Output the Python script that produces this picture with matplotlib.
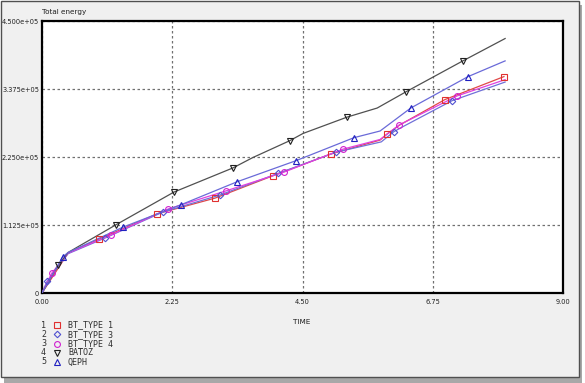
"""Total energy vs time for five shell formulations"""
import numpy as np
import matplotlib
matplotlib.use('Agg')
import matplotlib.pyplot as plt
from matplotlib.patches import Rectangle
from matplotlib.lines import Line2D

W, H = 585, 383

# Curve vertices (time, energy)
bt1_t = [0, 0.45, 0.98, 1.99, 2.99, 3.99, 4.99, 5.84, 5.96, 6.18, 6.96, 7.98]
bt1_e = [0, 0.66e5, 0.89e5, 1.31e5, 1.57e5, 1.94e5, 2.30e5, 2.53e5, 2.63e5, 2.78e5, 3.20e5, 3.58e5]
bt1_marks = [2, 3, 4, 5, 6, 8, 10, 11]

bt3_t = [0, 0.09, 0.45, 1.09, 2.09, 3.07, 4.08, 5.08, 5.86, 6.08, 6.25, 7.08, 8.0]
bt3_e = [0, 0.20e5, 0.65e5, 0.91e5, 1.34e5, 1.62e5, 1.98e5, 2.33e5, 2.50e5, 2.67e5, 2.76e5, 3.18e5, 3.49e5]
bt3_marks = [1, 3, 4, 5, 6, 7, 9, 11]

bt4_t = [0, 0.17, 0.45, 1.19, 2.18, 3.18, 4.18, 5.20, 5.84, 6.17, 7.17, 8.0]
bt4_e = [0, 0.33e5, 0.66e5, 0.96e5, 1.39e5, 1.69e5, 2.00e5, 2.38e5, 2.54e5, 2.78e5, 3.26e5, 3.53e5]
bt4_marks = [1, 3, 4, 5, 6, 7, 9, 10]

batoz_t = [0, 0.28, 0.45, 1.28, 2.28, 3.30, 3.64, 4.28, 4.51, 5.27, 5.79, 6.29, 7.27, 8.0]
batoz_e = [0, 0.46e5, 0.67e5, 1.13e5, 1.67e5, 2.07e5, 2.24e5, 2.52e5, 2.64e5, 2.91e5, 3.06e5, 3.33e5, 3.84e5, 4.21e5]
batoz_marks = [1, 3, 4, 5, 7, 9, 11, 12]

qeph_t = [0, 0.36, 0.45, 1.40, 2.40, 3.37, 4.39, 5.39, 5.84, 6.37, 7.36, 8.0]
qeph_e = [0, 0.60e5, 0.67e5, 1.09e5, 1.46e5, 1.84e5, 2.19e5, 2.57e5, 2.68e5, 3.06e5, 3.58e5, 3.84e5]
qeph_marks = [1, 3, 4, 5, 6, 7, 9, 10]

names = ['BT_TYPE 1', 'BT_TYPE 3', 'BT_TYPE 4', 'BATOZ', 'QEPH']
xticks = [0, 2.25, 4.5, 6.75, 9.0]
xlabels = ['0.00', '2.25', '4.50', '6.75', '9.00']
yticks = [0, 1.125e5, 2.25e5, 3.375e5, 4.5e5]
ylabels = ['0', '1.125e+05', '2.250e+05', '3.375e+05', '4.500e+05']

series = [(bt1_t, bt1_e, bt1_marks), (bt3_t, bt3_e, bt3_marks), (bt4_t, bt4_e, bt4_marks),
          (batoz_t, batoz_e, batoz_marks), (qeph_t, qeph_e, qeph_marks)]
line_cols = ['#e04848', '#7070d8', '#e040e0', '#505050', '#6a6ad8']
mark_cols = ['#e03030', '#5050d0', '#d020d0', '#202020', '#2020c0']
markers = ['s', 'D', 'o', 'v', '^']
msizes = [4.2, 3.3, 4.2, 4.2, 4.2]

plt.rcParams['font.family'] = 'DejaVu Sans'
fig = plt.figure(figsize=(W / 100, H / 100), dpi=100, facecolor='white')

# window frame with shadow
fig.add_artist(Rectangle((4 / W, 0), 578 / W, 1 - 5 / H, transform=fig.transFigure,
                         facecolor='#a8a8a8', edgecolor='none', zorder=-3))
fig.add_artist(Rectangle((1 / W, 1 - 377 / H), 578 / W, 376 / H, transform=fig.transFigure,
                         facecolor='#f0f0f0', edgecolor='#505050', lw=1, zorder=-2))

ax = fig.add_axes([42 / W, 1 - 293 / H, 521 / W, 272 / H])
ax.set_facecolor('white')

for (t, e, mk), lc, mc, m, ms in zip(series, line_cols, mark_cols, markers, msizes):
    t = np.array(t)
    e = np.array(e)
    ax.plot(t, e, color=lc, lw=0.9, zorder=3)
    ax.plot(t[mk], e[mk], ls='none', marker=m, ms=ms, mfc='none', mec=mc, mew=0.8, zorder=4)

ax.set_xlim(0, 9)
ax.set_ylim(0, 4.5e5)
ax.set_xticks(xticks)
ax.set_xticklabels(xlabels)
ax.set_yticks(yticks)
ax.set_yticklabels(ylabels)
ax.tick_params(length=0, labelsize=4.8, colors='#202020')
ax.tick_params(axis='x', pad=4)
ax.tick_params(axis='y', pad=2)
ax.grid(True, color='#707070', ls=(0, (2, 2)), lw=0.9)
for s in ax.spines.values():
    s.set_linewidth(1.6)
    s.set_color('black')

fig.text(42 / W, 1 - 12 / H, 'Total energy', fontsize=5.2, va='center', ha='left', color='#202020')
fig.text(302 / W, 1 - 322 / H, 'TIME', fontsize=5.2, va='center', ha='center', color='#202020')

# legend
for i, (nm, mc, m, ms) in enumerate(zip(names, mark_cols, markers, msizes)):
    y = 1 - (325 + i * 9.25) / H
    fig.text(46 / W, y, str(i + 1), fontsize=6, va='center', ha='right', family='DejaVu Sans Mono', color='#303030')
    fig.add_artist(Line2D([57 / W], [y], transform=fig.transFigure, marker=m, ms=ms,
                          mfc='none', mec=mc, mew=0.8, ls='none'))
    fig.text(68 / W, y, nm, fontsize=6, va='center', ha='left', family='DejaVu Sans Mono', color='#303030')

fig.savefig('out.png', dpi=100, facecolor=fig.get_facecolor())
